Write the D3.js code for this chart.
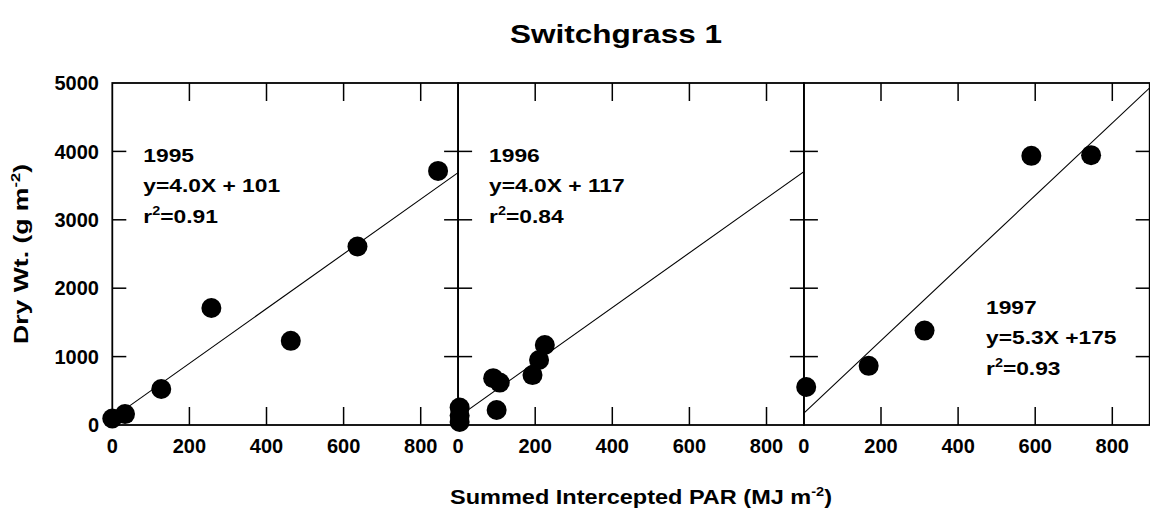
<!DOCTYPE html>
<html>
<head>
<meta charset="utf-8">
<script src="https://cdn.jsdelivr.net/npm/d3@7"></script>
<style>
  html, body { margin: 0; padding: 0; background: #fff; }
  svg { display: block; }
  text { font-family: "Liberation Sans", Arial, Helvetica, sans-serif; font-weight: bold; fill: #000; }
</style>
</head>
<body>
<svg id="chart" width="1150" height="509"></svg>
<script>
// Season labels for the three panels
const years = ["1995", "1996", "1997"];

// Summed intercepted PAR (MJ m-2) and dry weight (g m-2) for each season
const par1995 = [0, 33, 127, 257, 463, 636, 845];
const dw1995  = [95, 160, 526, 1710, 1230, 2610, 3715];

const par1996 = [4, 4, 4, 91, 100, 108, 193, 210, 225];
const dw1996  = [255, 140, 45, 685, 220, 620, 730, 950, 1170];

const par1997 = [6, 168, 313, 590, 745];
const dw1997  = [555, 865, 1380, 3935, 3945];

// Fitted regressions and r-squared values
const slopes     = [4.0, 4.0, 5.3];
const intercepts = [101, 117, 175];
const r2Values   = ["0.91", "0.84", "0.93"];
const eqLabels   = ["y=4.0X + 101", "y=4.0X + 117", "y=5.3X +175"];

// Axis ticks
const xTicks = [0, 200, 400, 600, 800];
const yTicks = [0, 1000, 2000, 3000, 4000, 5000];

const pars = [par1995, par1996, par1997];
const dws  = [dw1995, dw1996, dw1997];

const svg = d3.select("#chart");

const plotLeft = 112.3, panelW = 345.8, plotTop = 83, plotBottom = 425;
const xMax = 897;

const y = d3.scaleLinear().domain([0, 5000]).range([plotBottom, plotTop]);

// Title
svg.append("text")
  .attr("x", 616).attr("y", 43)
  .attr("text-anchor", "middle")
  .attr("font-size", 25)
  .attr("textLength", 212).attr("lengthAdjust", "spacingAndGlyphs")
  .text("Switchgrass 1");

// Y tick labels
svg.append("g").selectAll("text").data(yTicks).join("text")
  .attr("x", 99).attr("y", d => y(d))
  .attr("dy", "0.36em")
  .attr("text-anchor", "end")
  .attr("font-size", 20)
  .text(d => d);

// Y axis title
const yTitle = svg.append("text")
  .attr("transform", "translate(28,254) rotate(-90)")
  .attr("text-anchor", "middle")
  .attr("font-size", 21)
  .attr("textLength", 180).attr("lengthAdjust", "spacingAndGlyphs");
yTitle.append("tspan").text("Dry Wt. (g m");
yTitle.append("tspan").attr("font-size", 13).attr("dy", -8).text("-2");
yTitle.append("tspan").attr("dy", 8).text(")");

// X axis title
const xTitle = svg.append("text")
  .attr("x", 641).attr("y", 504)
  .attr("text-anchor", "middle")
  .attr("font-size", 21)
  .attr("textLength", 382).attr("lengthAdjust", "spacingAndGlyphs");
xTitle.append("tspan").text("Summed Intercepted PAR (MJ m");
xTitle.append("tspan").attr("font-size", 13).attr("dy", -8).text("-2");
xTitle.append("tspan").attr("dy", 8).text(")");

years.forEach((yr, i) => {
  const x0 = plotLeft + i * panelW;
  const x = d3.scaleLinear().domain([0, xMax]).range([x0, x0 + panelW]);
  const g = svg.append("g");

  const clipId = "clip" + i;
  svg.append("clipPath").attr("id", clipId)
    .append("rect").attr("x", x0).attr("y", plotTop).attr("width", panelW).attr("height", plotBottom - plotTop);

  // Regression line
  const fx = v => slopes[i] * v + intercepts[i];
  g.append("line")
    .attr("clip-path", `url(#${clipId})`)
    .attr("x1", x(0)).attr("y1", y(fx(0)))
    .attr("x2", x(xMax)).attr("y2", y(fx(xMax)))
    .attr("stroke", "#000").attr("stroke-width", 1.1);

  // Observations
  g.selectAll("circle").data(pars[i].map((p, k) => [p, dws[i][k]])).join("circle")
    .attr("cx", d => x(d[0])).attr("cy", d => y(d[1]))
    .attr("r", 10).attr("fill", "#000");

  // Frame
  g.append("rect")
    .attr("x", x0).attr("y", plotTop).attr("width", panelW).attr("height", plotBottom - plotTop)
    .attr("fill", "none").attr("stroke", "#000").attr("stroke-width", 1.8);

  // X ticks, inward on bottom and top
  const inner = xTicks.filter(d => d > 0);
  g.selectAll(".xtb").data(inner).join("line")
    .attr("class", "xtb")
    .attr("x1", d => x(d)).attr("x2", d => x(d))
    .attr("y1", plotBottom).attr("y2", plotBottom - 18)
    .attr("stroke", "#000").attr("stroke-width", 1.5);
  g.selectAll(".xtt").data(inner).join("line")
    .attr("class", "xtt")
    .attr("x1", d => x(d)).attr("x2", d => x(d))
    .attr("y1", plotTop).attr("y2", plotTop + 18)
    .attr("stroke", "#000").attr("stroke-width", 1.5);

  // Y ticks, inward on both sides of each panel
  const yInner = yTicks.filter(d => d > 0 && d < 5000);
  g.selectAll(".ytl").data(yInner).join("line")
    .attr("class", "ytl")
    .attr("x1", x0).attr("x2", x0 + 14)
    .attr("y1", d => y(d)).attr("y2", d => y(d))
    .attr("stroke", "#000").attr("stroke-width", 1.5);
  g.selectAll(".ytr").data(yInner).join("line")
    .attr("class", "ytr")
    .attr("x1", x0 + panelW).attr("x2", x0 + panelW - 14)
    .attr("y1", d => y(d)).attr("y2", d => y(d))
    .attr("stroke", "#000").attr("stroke-width", 1.5);

  // X tick labels
  g.selectAll(".xl").data(xTicks).join("text")
    .attr("class", "xl")
    .attr("x", d => x(d)).attr("y", 453)
    .attr("text-anchor", "middle")
    .attr("font-size", 20)
    .text(d => d);

  // Season annotation (slightly widened lettering)
  const ann = i === 2 ? { x: 986, y: 314 } : { x: x0 + 31, y: 162 };
  const lh = 30.5;
  const a = g.append("g").attr("transform", `translate(${ann.x},${ann.y}) scale(1.2,1)`);
  a.append("text").attr("x", 0).attr("y", 0).attr("font-size", 19).text(yr);
  a.append("text").attr("x", 0).attr("y", lh).attr("font-size", 19).text(eqLabels[i]);
  const rt = a.append("text").attr("x", 0).attr("y", 2 * lh).attr("font-size", 19);
  rt.append("tspan").text("r");
  rt.append("tspan").attr("font-size", 12).attr("dy", -8).text("2");
  rt.append("tspan").attr("dy", 8).text("=" + r2Values[i]);
});
</script>
</body>
</html>
